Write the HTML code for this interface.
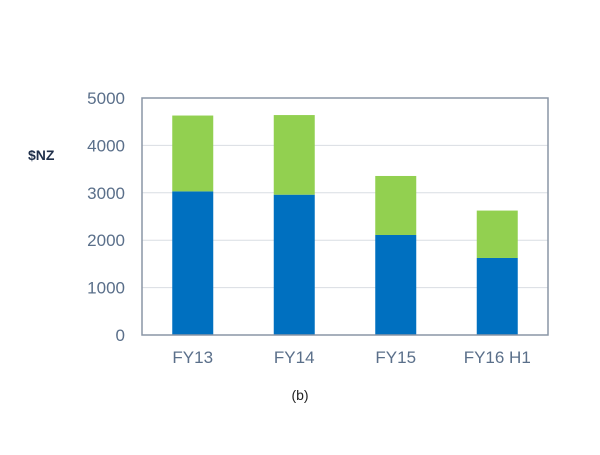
<!DOCTYPE html>
<html><head><meta charset="utf-8"><style>
body{margin:0;background:#fff;}
svg text{font-family:"Liberation Sans",sans-serif;}
</style></head><body>
<svg id="chart" width="600" height="450" xmlns="http://www.w3.org/2000/svg">
<text x="28" y="160" font-size="14" font-weight="bold" fill="#1f2f4a">$NZ</text>
<g id="grid"></g><g id="bars"></g><g id="axes"></g>
<text x="300" y="400" font-size="14" text-anchor="middle" fill="#222">(b)</text>
</svg>
<script>
const categories = ["FY13","FY14","FY15","FY16 H1"];
const seriesBlue = [3030,2960,2110,1625];
const seriesGreen = [1600,1680,1245,1000];
const yTicks = [0,1000,2000,3000,4000,5000];
const L=142,R=548,T=98,B=335,yMax=5000;
const NS="http://www.w3.org/2000/svg";
const y=v=>B-(v/yMax)*(B-T);
const band=(R-L)/categories.length;
const xc=i=>L+band*(i+0.5);
function mk(tag,attrs,parent){const e=document.createElementNS(NS,tag);for(const k in attrs)e.setAttribute(k,attrs[k]);document.getElementById(parent).appendChild(e);return e;}
yTicks.forEach(t=>{
  if(t>0&&t<yMax){const g=mk('line',{x1:L,x2:R,y1:y(t),y2:y(t),stroke:'#d9dde3','stroke-width':1},'grid');
  
  }
  const tx=mk('text',{x:L-17,y:y(t)+6,'font-size':17,'text-anchor':'end',fill:'#5a6f8a'},'axes');
  tx.textContent=t;
  
  
});
const frame=mk('path',{d:`M${L},${B}V${T}H${R}V${B}Z`,fill:'none',stroke:'#8a96a6','stroke-width':1.5},'axes');


categories.forEach((c,i)=>{
  const w=41,x=xc(i)-w/2;
  const b=mk('rect',{x:x,y:y(seriesBlue[i]),width:w,height:B-y(seriesBlue[i]),fill:'#0070c0'},'bars');
  
  
  const tot=seriesBlue[i]+seriesGreen[i];
  const g=mk('rect',{x:x,y:y(tot),width:w,height:y(seriesBlue[i])-y(tot),fill:'#92d050'},'bars');
  
  
  const tx=mk('text',{x:xc(i),y:B+28,'font-size':17,'text-anchor':'middle',fill:'#5a6f8a'},'axes');
  tx.textContent=c;
  
  
});
</script>
</body></html>
